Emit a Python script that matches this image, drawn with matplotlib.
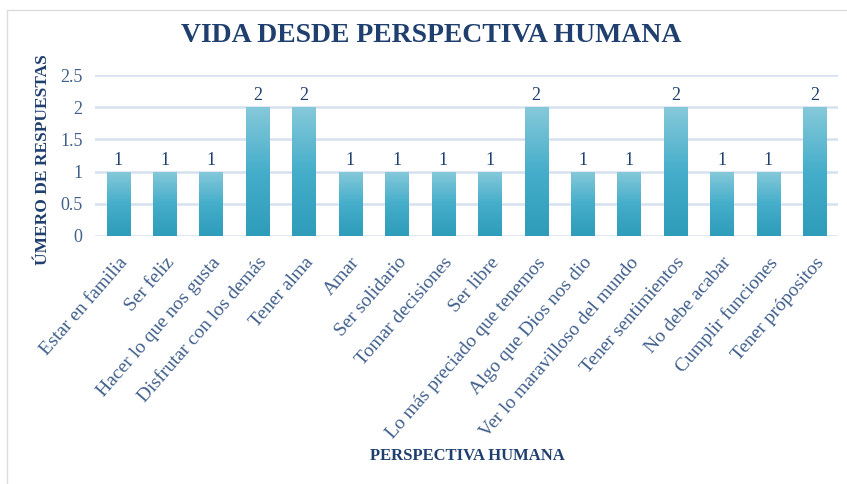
import numpy as np
import matplotlib
matplotlib.use("Agg")
import matplotlib.pyplot as plt
from matplotlib.patches import Rectangle
from matplotlib.colors import LinearSegmentedColormap

categories = ["Estar en familia", "Ser feliz", "Hacer lo que nos gusta",
              "Disfrutar con los demás", "Tener alma", "Amar", "Ser solidario",
              "Tomar decisiones", "Ser libre", "Lo más preciado que tenemos",
              "Algo que Dios nos dio", "Ver lo maravilloso del mundo",
              "Tener sentimientos", "No debe acabar", "Cumplir funciones",
              "Tener própositos"]
values = [1, 1, 1, 2, 2, 1, 1, 1, 1, 2, 1, 1, 2, 1, 1, 2]
yticks = [0, 0.5, 1, 1.5, 2, 2.5]
ytick_labels = ["0", "0.5", "1", "1.5", "2", "2.5"]

title = "VIDA DESDE PERSPECTIVA HUMANA"
xlabel = "PERSPECTIVA HUMANA"
ylabel = "ÚMERO DE RESPUESTAS"

dark = "#1F3F6E"
mid = "#41608C"
serif = ["Liberation Serif", "DejaVu Serif"]

fig = plt.figure(figsize=(8.47, 4.84), dpi=100)
fig.patches.append(Rectangle((7/847, -0.01), 1.0, 1 - 10/484 + 0.01,
                             transform=fig.transFigure, fill=False,
                             edgecolor="#DCDCDC", linewidth=1.0, zorder=0))

ax = fig.add_axes([95/847, 1 - 236/484, 743/847, 161/484])
x = np.arange(len(categories))
ax.set_xlim(-0.5, len(categories) - 0.5)
ax.set_ylim(0, 2.5)

cmap = LinearSegmentedColormap.from_list("g", ["#2E9CBA", "#45AECA", "#86C9DA"])
grad = np.linspace(0, 1, 256).reshape(-1, 1)
bars = ax.bar(x, values, width=0.5, color="none", zorder=3)
for b in bars:
    x0, y0 = b.get_x(), b.get_y()
    w, h = b.get_width(), b.get_height()
    im = ax.imshow(grad, cmap=cmap, origin="lower", aspect="auto",
                   extent=(x0, x0 + w, y0, y0 + h), zorder=3)
    im.set_clip_path(b)

for xi, v in zip(x, values):
    ax.annotate(str(v), (xi, v), xytext=(0, 2), textcoords="offset points",
                ha="center", va="bottom", fontsize=13, color=dark,
                family=serif)

ax.set_yticks(yticks)
ax.set_yticklabels(ytick_labels, family=serif, fontsize=13, color=mid)
ax.set_xticks(x)
ax.set_xticklabels(categories, rotation=49, ha="right", rotation_mode="anchor",
                   family=serif, fontsize=14, color=mid)
ax.tick_params(axis="both", length=0)
ax.tick_params(axis="y", pad=9)
ax.tick_params(axis="x", pad=13)
ax.yaxis.grid(True, color="#D6E1F0", linewidth=1.8, zorder=0)
ax.set_axisbelow(True)
for s in ax.spines.values():
    s.set_visible(False)

fig.text(431/847, 1 - 35/484, title, ha="center", va="center",
         fontsize=20, fontweight="bold", color=dark, family=serif)
fig.text(467/847, 1 - 456/484, xlabel, ha="center", va="center",
         fontsize=12, fontweight="bold", color=dark, family=serif)
fig.text(43/847, 1 - 160/484, ylabel, ha="center", va="center",
         rotation=90, fontsize=12.5, fontweight="bold", color=dark, family=serif)

fig.savefig("out.png", dpi=100)
